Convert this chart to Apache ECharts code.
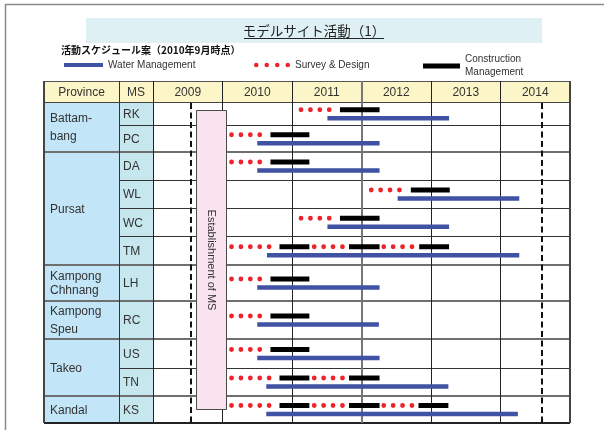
<!DOCTYPE html>
<html>
<head>
<meta charset="utf-8">
<script src="https://cdn.jsdelivr.net/npm/echarts@6/dist/echarts.min.js"></script>
<style>
  html, body { margin: 0; padding: 0; background: #fff; }
  #main { width: 608px; height: 430px; }
</style>
</head>
<body>
<div id="main"></div>
<script>
// ---- data (years as decimals) ----
var years = ['2009', '2010', '2011', '2012', '2013', '2014'];
var labelHeads = ['Province', 'MS'];
var provinces = ['Battam-\nbang', 'Pursat', 'Kampong\nChhnang', 'Kampong\nSpeu', 'Takeo', 'Kandal'];
var provinceSpan = [2, 4, 1, 1, 2, 1];
var sites = ['RK', 'PC', 'DA', 'WL', 'WC', 'TM', 'LH', 'RC', 'US', 'TN', 'KS'];

var waterMgmt = [
  [2011.51, 2013.26], [2010.50, 2012.26], [2010.50, 2012.26], [2012.52, 2014.27],
  [2011.51, 2013.26], [2010.64, 2014.27], [2010.50, 2012.26], [2010.50, 2012.25],
  [2010.50, 2012.26], [2010.63, 2013.25], [2010.63, 2014.25]
];
var surveyDesign = [
  [[2011.13, 2011.53]],
  [[2010.13, 2010.54]],
  [[2010.13, 2010.54]],
  [[2012.14, 2012.54]],
  [[2011.13, 2011.53]],
  [[2010.13, 2010.66], [2011.32, 2011.72], [2012.32, 2012.72]],
  [[2010.13, 2010.54]],
  [[2010.13, 2010.54]],
  [[2010.13, 2010.54]],
  [[2010.13, 2010.66], [2011.32, 2011.72]],
  [[2010.13, 2010.66], [2011.32, 2011.72], [2012.32, 2012.72]]
];
var construction = [
  [[2011.69, 2012.26]],
  [[2010.69, 2011.25]],
  [[2010.69, 2011.25]],
  [[2012.71, 2013.27]],
  [[2011.69, 2012.26]],
  [[2010.82, 2011.25], [2011.82, 2012.26], [2012.83, 2013.26]],
  [[2010.69, 2011.25]],
  [[2010.69, 2011.25]],
  [[2010.69, 2011.25]],
  [[2010.82, 2011.25], [2011.82, 2012.26]],
  [[2010.82, 2011.25], [2011.82, 2012.26], [2012.82, 2013.25]]
];
var msEstablish = [2009.62, 2010.05];
var milestones = [2009.55, 2014.59];

// ---- layout ----
var FONT = '"Liberation Sans", Arial, sans-serif';
var CJK = '"Noto Sans CJK JP", sans-serif';
var headerH = 21;
var rowH = [23.5, 26.5, 28, 28, 28.5, 28.5, 36, 38, 29, 28, 27];
var labelCols = [0, 75, 109];
var provLineH = [18, 14, 14, 18, 14, 14];
var estTop = 29, estBottom = 328;

var rowTop = [];
var acc = headerH;
rowH.forEach(function (h) { rowTop.push(acc); acc += h; });
var tableH = acc;

var provStart = [];
var s0 = 0;
provinceSpan.forEach(function (n) { provStart.push(s0); s0 += n; });
var edgeRows = {};
provStart.forEach(function (st, i) { edgeRows[st + provinceSpan[i] - 1] = true; });

function crisp(v) { return Math.round(v - 0.5) + 0.5; }

function cellRect(api, x0, y0, x1, y1) {
  var a = api.coord([x0, y0]), b = api.coord([x1, y1]);
  return { x: a[0], y: a[1], width: b[0] - a[0], height: b[1] - a[1] };
}

function hLine(api, x0, x1, y, stroke, w) {
  var a = api.coord([x0, y]), b = api.coord([x1, y]);
  var yy = w % 2 ? crisp(a[1]) : Math.round(a[1]);
  return { type: 'line', shape: { x1: a[0], y1: yy, x2: b[0], y2: yy }, style: { stroke: stroke, lineWidth: w } };
}

function vLine(api, x, y0, y1, stroke, w) {
  var a = api.coord([x, y0]), b = api.coord([x, y1]);
  var xx = w % 2 ? crisp(a[0]) : Math.round(a[0]);
  return { type: 'line', shape: { x1: xx, y1: a[1], x2: xx, y2: b[1] }, style: { stroke: stroke, lineWidth: w } };
}

function flatten(list) {
  var out = [];
  list.forEach(function (segs, row) {
    segs.forEach(function (sg) { out.push([sg[0], sg[1], row]); });
  });
  return out;
}

function markSeries(name, data, color, width, dy, dotted) {
  return {
    type: 'custom', name: name, xAxisIndex: 1, yAxisIndex: 1, z: 6,
    encode: { x: [0, 1], y: 2 },
    itemStyle: { color: color },
    data: data,
    renderItem: function (params, api) {
      var r = api.value(2);
      var y = rowTop[r] + rowH[r] / 2;
      var p1 = api.coord([api.value(0), y]);
      var p2 = api.coord([api.value(1), y]);
      return {
        type: 'line',
        shape: { x1: p1[0], y1: p1[1] + dy, x2: p2[0] + (dotted ? 2 : 0), y2: p2[1] + dy },
        style: dotted
          ? { stroke: color, lineWidth: 4.8, lineDash: [0, 9.4], lineCap: 'round' }
          : { stroke: color, lineWidth: width }
      };
    }
  };
}

var chart = echarts.init(document.getElementById('main'));

var option = {
  animation: false,
  backgroundColor: '#fff',
  grid: [
    { left: 44, top: 81, width: labelCols[2], height: tableH },
    { left: 44 + labelCols[2], top: 81, width: 417, height: tableH }
  ],
  xAxis: [
    { gridIndex: 0, type: 'value', min: 0, max: labelCols[2], show: false },
    { gridIndex: 1, type: 'value', min: 2009, max: 2015, show: false }
  ],
  yAxis: [
    { gridIndex: 0, type: 'value', min: 0, max: tableH, inverse: true, show: false },
    { gridIndex: 1, type: 'value', min: 0, max: tableH, inverse: true, show: false }
  ],
  legend: [
    {
      left: 64, top: 60, padding: 0, itemWidth: 39, itemHeight: 4,
      textStyle: { fontSize: 10, color: '#333', fontFamily: FONT },
      data: [{ name: 'Water Management', icon: 'rect', itemStyle: { color: '#3f52a4' } }]
    },
    {
      left: 254, top: 60, padding: 0, itemWidth: 36, itemHeight: 4.5,
      textStyle: { fontSize: 10, color: '#333', fontFamily: FONT },
      data: [{
        name: 'Survey & Design',
        icon: 'path://M0,2.25a2.25,2.25 0 1,0 4.5,0a2.25,2.25 0 1,0 -4.5,0zM10.5,2.25a2.25,2.25 0 1,0 4.5,0a2.25,2.25 0 1,0 -4.5,0zM21,2.25a2.25,2.25 0 1,0 4.5,0a2.25,2.25 0 1,0 -4.5,0zM31.5,2.25a2.25,2.25 0 1,0 4.5,0a2.25,2.25 0 1,0 -4.5,0z',
        itemStyle: { color: '#ee2229' }
      }]
    },
    {
      left: 423, top: 53, padding: 0, itemWidth: 37, itemHeight: 5,
      formatter: function () { return 'Construction\nManagement'; },
      textStyle: { fontSize: 10, color: '#333', fontFamily: FONT, lineHeight: 13 },
      data: [{ name: 'Construction Management', icon: 'rect', itemStyle: { color: '#000' } }]
    }
  ],
  graphic: [
    { type: 'line', shape: { x1: 5, y1: 4.5, x2: 604, y2: 4.5 }, style: { stroke: '#8a8a8a', lineWidth: 1.5 } },
    { type: 'line', shape: { x1: 5.5, y1: 4, x2: 5.5, y2: 430 }, style: { stroke: '#8a8a8a', lineWidth: 1.5 } },
    { type: 'rect', shape: { x: 86, y: 18, width: 456, height: 25 }, style: { fill: '#dff0f4' } },
    {
      type: 'text', x: 314, y: 31,
      style: { text: 'モデルサイト活動（1）', font: '13.5px ' + CJK, fill: '#222', align: 'center', verticalAlign: 'middle' }
    },
    { type: 'line', shape: { x1: 244, y1: 38.5, x2: 384, y2: 38.5 }, style: { stroke: '#222', lineWidth: 1 } },
    {
      type: 'text', x: 61, y: 50.5,
      style: { text: '活動スケジュール案（2010年9月時点）', font: 'bold 10px ' + CJK, fill: '#111', align: 'left', verticalAlign: 'middle' }
    }
  ],
  series: [
    // header cells, label columns
    {
      type: 'custom', xAxisIndex: 0, yAxisIndex: 0, z: 1,
      data: labelHeads.map(function (t, i) { return [i]; }),
      renderItem: function (params, api) {
        var i = api.value(0);
        var r = cellRect(api, labelCols[i], 0, labelCols[i + 1], headerH);
        return {
          type: 'group',
          children: [
            { type: 'rect', shape: r, style: { fill: '#fcf5c7' } },
            {
              type: 'text', x: r.x + r.width / 2, y: r.y + r.height / 2 + 1,
              style: { text: labelHeads[i], font: '12px ' + FONT, fill: '#333', align: 'center', verticalAlign: 'middle' }
            }
          ]
        };
      }
    },
    // province cells
    {
      type: 'custom', xAxisIndex: 0, yAxisIndex: 0, z: 1,
      data: provinces.map(function (p, i) { return [i]; }),
      renderItem: function (params, api) {
        var i = api.value(0);
        var st = provStart[i], en = st + provinceSpan[i] - 1;
        var r = cellRect(api, labelCols[0], rowTop[st], labelCols[1], rowTop[en] + rowH[en]);
        return {
          type: 'group',
          children: [
            { type: 'rect', shape: r, style: { fill: '#c2e5f8' } },
            {
              type: 'text', x: r.x + 6, y: r.y + r.height / 2 + 1,
              style: { text: provinces[i], font: '12px ' + FONT, fill: '#333', align: 'left', verticalAlign: 'middle', lineHeight: provLineH[i] }
            }
          ]
        };
      }
    },
    // MS cells
    {
      type: 'custom', xAxisIndex: 0, yAxisIndex: 0, z: 1,
      data: sites.map(function (m, i) { return [i]; }),
      renderItem: function (params, api) {
        var i = api.value(0);
        var r = cellRect(api, labelCols[1], rowTop[i], labelCols[2], rowTop[i] + rowH[i]);
        return {
          type: 'group',
          children: [
            { type: 'rect', shape: r, style: { fill: '#c7e7ee' } },
            {
              type: 'text', x: r.x + 4, y: r.y + r.height / 2 + 1,
              style: { text: sites[i], font: '12px ' + FONT, fill: '#333', align: 'left', verticalAlign: 'middle' }
            }
          ]
        };
      }
    },
    // year header cells
    {
      type: 'custom', xAxisIndex: 1, yAxisIndex: 1, z: 1,
      data: years.map(function (y) { return [+y]; }),
      renderItem: function (params, api) {
        var y = api.value(0);
        var r = cellRect(api, y, 0, y + 1, headerH);
        return {
          type: 'group',
          children: [
            { type: 'rect', shape: r, style: { fill: '#fcf5c7' } },
            {
              type: 'text', x: r.x + r.width / 2, y: r.y + r.height / 2 + 1,
              style: { text: String(y), font: '12px ' + FONT, fill: '#333', align: 'center', verticalAlign: 'middle' }
            }
          ]
        };
      }
    },
    // horizontal lines, label columns
    {
      type: 'custom', xAxisIndex: 0, yAxisIndex: 0, z: 2,
      data: sites.map(function (m, i) { return [i]; }),
      renderItem: function (params, api) {
        var i = api.value(0);
        var kids = [];
        if (i === 0) {
          kids.push(hLine(api, labelCols[0], labelCols[2], 0, '#555', 1));
          kids.push(hLine(api, labelCols[0], labelCols[2], headerH, '#444', 1));
        }
        var yb = rowTop[i] + rowH[i];
        if (i === sites.length - 1) kids.push(hLine(api, labelCols[0], labelCols[2], yb, '#222', 2));
        else if (edgeRows[i]) kids.push(hLine(api, labelCols[0], labelCols[2], yb, '#6f6f6f', 2));
        else kids.push(hLine(api, labelCols[1], labelCols[2], yb, '#333', 1));
        return { type: 'group', children: kids };
      }
    },
    // horizontal lines, year columns
    {
      type: 'custom', xAxisIndex: 1, yAxisIndex: 1, z: 2,
      data: sites.map(function (m, i) { return [i]; }),
      renderItem: function (params, api) {
        var i = api.value(0);
        var kids = [];
        if (i === 0) {
          kids.push(hLine(api, 2009, 2015, 0, '#555', 1));
          kids.push(hLine(api, 2009, 2015, headerH, '#444', 1));
        }
        var yb = rowTop[i] + rowH[i];
        if (i === sites.length - 1) kids.push(hLine(api, 2009, 2015, yb, '#222', 2));
        else if (edgeRows[i]) kids.push(hLine(api, 2009, 2015, yb, '#6f6f6f', 2));
        else kids.push(hLine(api, 2009, 2015, yb, '#333', 1));
        return { type: 'group', children: kids };
      }
    },
    // vertical lines, label columns
    {
      type: 'custom', xAxisIndex: 0, yAxisIndex: 0, z: 2,
      data: labelCols.slice(0, 2).map(function (c) { return [c]; }),
      renderItem: function (params, api) {
        var c = api.value(0);
        return vLine(api, c, 0, tableH, c === 0 ? '#444' : '#333', c === 0 ? 2 : 1);
      }
    },
    // vertical lines, year columns
    {
      type: 'custom', xAxisIndex: 1, yAxisIndex: 1, z: 2,
      data: years.map(function (y) { return [+y]; }).concat([[+years[years.length - 1] + 1]]),
      renderItem: function (params, api) {
        var c = api.value(0);
        var edge = c === 2015;
        return vLine(api, c, 0, tableH, edge ? '#444' : (c === 2012 ? '#777' : '#222'), edge || c === 2012 ? 2 : 1);
      }
    },
    // milestone dashed lines
    {
      type: 'custom', xAxisIndex: 1, yAxisIndex: 1, z: 3,
      data: milestones.map(function (m) { return [m]; }),
      renderItem: function (params, api) {
        var a = api.coord([api.value(0), headerH]), b = api.coord([api.value(0), tableH]);
        return {
          type: 'line',
          shape: { x1: Math.round(a[0]), y1: a[1] + 1, x2: Math.round(b[0]), y2: b[1] },
          style: { stroke: '#111', lineWidth: 2, lineDash: [6, 3.5] }
        };
      }
    },
    // establishment of MS box
    {
      type: 'custom', xAxisIndex: 1, yAxisIndex: 1, z: 4,
      data: [msEstablish],
      renderItem: function (params, api) {
        var r = cellRect(api, api.value(0), estTop, api.value(1), estBottom);
        r.x = crisp(r.x); r.y = crisp(r.y);
        r.width = Math.round(r.width); r.height = Math.round(r.height);
        return {
          type: 'group',
          children: [
            { type: 'rect', shape: r, style: { fill: '#f9e3ef', stroke: '#4a4a4a', lineWidth: 1 } },
            {
              type: 'text', x: r.x + r.width / 2, y: r.y + r.height / 2, rotation: -Math.PI / 2,
              style: { text: 'Establishment of MS', font: '11px ' + FONT, fill: '#333', align: 'center', verticalAlign: 'middle' }
            }
          ]
        };
      }
    },
    markSeries('Water Management', flatten(waterMgmt.map(function (w) { return [w]; })), '#3f52a4', 4.5, 4.5, false),
    markSeries('Construction Management', flatten(construction), '#000', 5, -4, false),
    markSeries('Survey & Design', flatten(surveyDesign), '#ee2229', 4, -4, true)
  ]
};

chart.setOption(option);
</script>
</body>
</html>
